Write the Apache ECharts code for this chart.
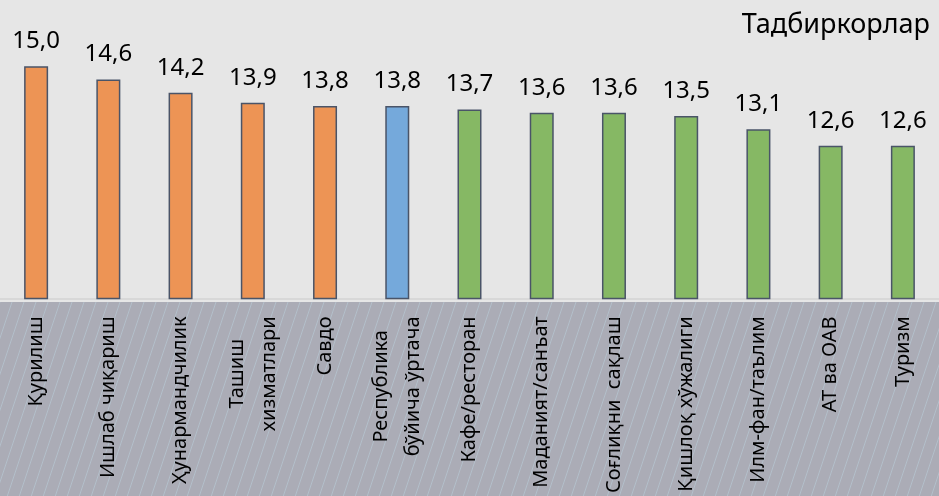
<!DOCTYPE html>
<html>
<head>
<meta charset="utf-8">
<script src="https://cdn.jsdelivr.net/npm/echarts@6/dist/echarts.min.js"></script>
<style>
html,body{margin:0;padding:0;background:#e6e6e6;}
#chart{width:939px;height:496px;}
</style>
</head>
<body>
<div id="chart"></div>
<script>
var categories = ['Қурилиш', 'Ишлаб чиқариш', 'Ҳунармандчилик', 'Ташиш\nхизматлари', 'Савдо',
  'Республика\nбўйича ўртача', 'Кафе/ресторан', 'Маданият/санъат', 'Соғлиқни  сақлаш',
  'Қишлоқ хўжалиги', 'Илм-фан/таълим', 'АТ ва ОАВ', 'Туризм'];
var values = [15.0, 14.6, 14.2, 13.9, 13.8, 13.8, 13.7, 13.6, 13.6, 13.5, 13.1, 12.6, 12.6];
var groups = ['high', 'high', 'high', 'high', 'high', 'avg', 'low', 'low', 'low', 'low', 'low', 'low', 'low'];
var groupColors = { high: '#ED9455', avg: '#75A9DB', low: '#86B864' };
var titleText = 'Тадбиркорлар';

var FONT = 'Noto Sans';

// hatch pattern for the label band
var pc = document.createElement('canvas');
pc.width = 12; pc.height = 36;
var ctx = pc.getContext('2d');
ctx.fillStyle = '#abacb6';
ctx.fillRect(0, 0, 12, 36);
ctx.strokeStyle = 'rgba(188,214,226,0.45)';
ctx.lineWidth = 1;
[-12, 0, 12].forEach(function (o) {
  ctx.beginPath();
  ctx.moveTo(o, 36);
  ctx.lineTo(o + 12, 0);
  ctx.stroke();
});

var chart = echarts.init(document.getElementById('chart'));
chart.setOption({
  backgroundColor: '#e6e6e6',
  animation: false,
  title: {
    text: titleText,
    right: 4,
    top: 7,
    textStyle: { fontFamily: FONT, fontSize: 27, fontWeight: 'normal', color: '#000' }
  },
  graphic: [{
    type: 'rect',
    left: 0,
    bottom: 0,
    z: -10,
    shape: { width: 939, height: 194 },
    style: { fill: { image: pc, repeat: 'repeat' } }
  }],
  grid: { left: -3, right: -10, top: 0, bottom: 195 },
  xAxis: {
    type: 'category',
    data: categories,
    axisTick: { show: false },
    axisLine: { show: true, lineStyle: { color: '#d8d8d8', width: 2 } },
    axisLabel: {
      interval: 0,
      rotate: 90,
      margin: 18,
      color: '#000',
      fontFamily: FONT,
      fontSize: 20,
      formatter: function (v) {
        return v.split('\n').map(function (s) { return '{c|' + s + '}'; }).join('\n');
      },
      rich: { c: { align: 'center', fontFamily: FONT, fontSize: 20, color: '#000', lineHeight: 32 } }
    }
  },
  yAxis: {
    type: 'value',
    min: 8,
    max: 17,
    show: false,
    splitLine: { show: false }
  },
  series: [{
    type: 'bar',
    data: values,
    barWidth: 24,
    itemStyle: {
      color: function (p) { return groupColors[groups[p.dataIndex]]; },
      borderColor: '#4a5468',
      borderWidth: 1.5
    },
    label: {
      show: true,
      position: 'top',
      distance: 13,
      color: '#000',
      fontFamily: FONT,
      fontSize: 24,
      formatter: function (p) { return p.value.toFixed(1).replace('.', ','); }
    }
  }]
});
</script>
</body>
</html>
